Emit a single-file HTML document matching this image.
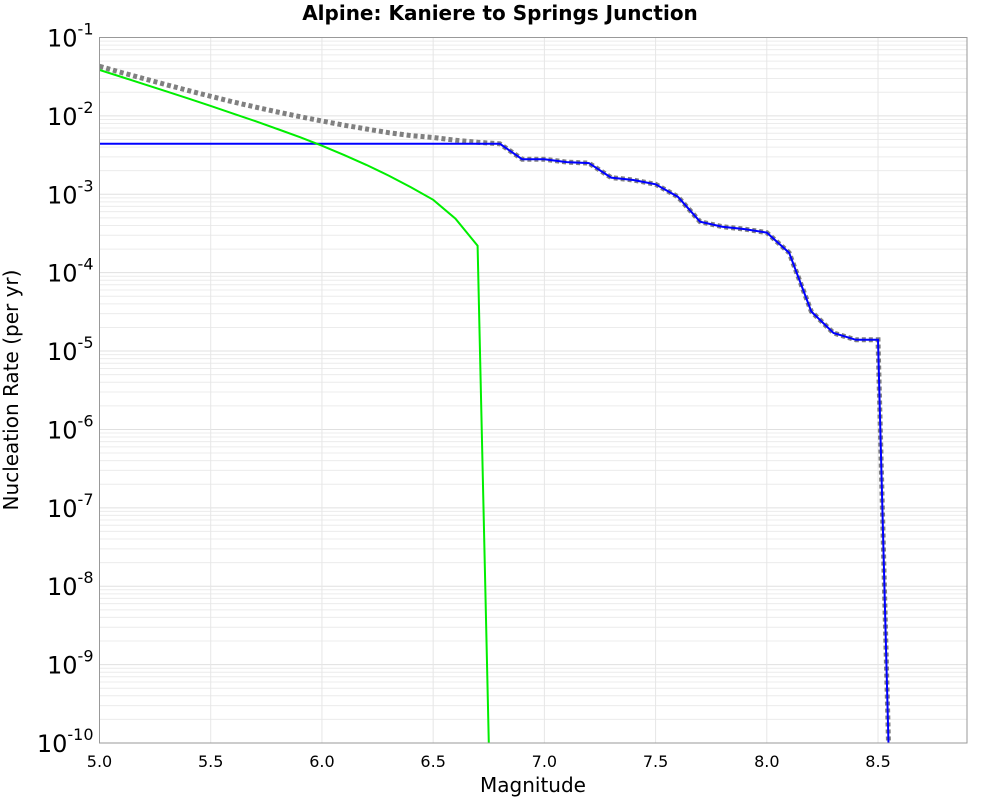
<!DOCTYPE html>
<html><head><meta charset="utf-8"><style>
body{margin:0;background:#fff;font-family:"Liberation Sans","DejaVu Sans",sans-serif}
</style></head><body>
<svg id="chart" width="1000" height="800" xmlns="http://www.w3.org/2000/svg" font-family="DejaVu Sans, Liberation Sans, sans-serif">
<rect width="1000" height="800" fill="#fff"/>
<text x="500" y="20" text-anchor="middle" font-size="20" font-weight="bold">Alpine: Kaniere to Springs Junction</text>
<g id="grid"></g><g id="ticks"></g>
<defs><clipPath id="pc"><rect x="99.5" y="37.5" width="867.5" height="705.5"/></clipPath></defs>
<g id="series" clip-path="url(#pc)"></g>
<rect x="99.5" y="37.5" width="867.5" height="705.5" fill="none" stroke="#999" stroke-width="1"/>
<text x="533" y="792" text-anchor="middle" font-size="20">Magnitude</text>
<text x="18" y="390" text-anchor="middle" font-size="20" transform="rotate(-90 18 390)">Nucleation Rate (per yr)</text>
</svg>
<script>
const xTicks=[5.0,5.5,6.0,6.5,7.0,7.5,8.0,8.5];
const yExps=[-1,-2,-3,-4,-5,-6,-7,-8,-9,-10];
const greenX=[5.0,5.1,5.2,5.3,5.4,5.5,5.6,5.7,5.8,5.9,6.0,6.1,6.2,6.3,6.4,6.5,6.6,6.7,6.75];
const greenY=[0.0385,0.0313,0.0254,0.0206,0.0166,0.0134,0.0107,0.00857,0.00681,0.00537,0.00417,0.00316,0.00237,0.00173,0.00123,0.00085,0.00049,0.00022,1e-10];
const blueX=[5.0,6.8,6.9,7.0,7.1,7.2,7.3,7.4,7.5,7.6,7.7,7.8,7.9,8.0,8.1,8.2,8.3,8.4,8.5,8.55];
const blueY=[0.0044,0.0044,0.0028,0.0028,0.00257,0.0025,0.00163,0.00152,0.00134,0.00093,0.000447,0.000386,0.00036,0.000324,0.00018,0.000032,0.000017,0.0000139,0.0000139,5e-11];
const totalX=[5.0,5.1,5.2,5.3,5.4,5.5,5.6,5.7,5.8,5.9,6.0,6.1,6.2,6.3,6.4,6.5,6.6,6.7,6.8,6.9,7.0,7.1,7.2,7.3,7.4,7.5,7.6,7.7,7.8,7.9,8.0,8.1,8.2,8.3,8.4,8.5,8.55];
const totalY=[0.0429,0.0357,0.0298,0.025,0.021,0.0178,0.0151,0.013,0.0112,0.0098,0.0086,0.0076,0.0068,0.0061,0.0056,0.0053,0.0049,0.0046,0.0044,0.0028,0.0028,0.00257,0.0025,0.00163,0.00152,0.00134,0.00093,0.000447,0.000386,0.00036,0.000324,0.00018,0.000032,0.000017,0.0000139,0.0000139,5e-11];
const X0=99.5,X1=967,Y0=37.5,Y1=743,XMIN=5.0,XMAX=8.9,LMAX=-1,LMIN=-10;
const sx=v=>X0+(v-XMIN)/(XMAX-XMIN)*(X1-X0);
const sy=v=>Y0+(LMAX-Math.log10(v))/(LMAX-LMIN)*(Y1-Y0);
const NS="http://www.w3.org/2000/svg";
function mk(tag,attrs,parent){const e=document.createElementNS(NS,tag);for(const k in attrs)e.setAttribute(k,attrs[k]);parent.appendChild(e);return e;}
const grid=document.getElementById('grid'),ticks=document.getElementById('ticks'),series=document.getElementById('series');
for(let e=-10;e<-1;e++){for(let m=2;m<=9;m++){const y=sy(m*Math.pow(10,e));
const l=mk('line',{x1:X0,x2:X1,y1:y,y2:y,stroke:'#ececec','stroke-width':1},grid);

}}
yExps.forEach(e=>{const y=sy(Math.pow(10,e));
const l=mk('line',{x1:X0,x2:X1,y1:y,y2:y,stroke:'#e0e0e0','stroke-width':1},grid);


const t=mk('text',{x:X0-6,y:y+9,'text-anchor':'end','font-size':24},ticks);


t.innerHTML='10<tspan dy="-12" font-size="16">'+e+'</tspan>';});
xTicks.forEach(v=>{const x=sx(v);
const l=mk('line',{x1:x,x2:x,y1:Y0,y2:Y1,stroke:'#e6e6e6','stroke-width':1},grid);


const t=mk('text',{x:x,y:767,'text-anchor':'middle','font-size':16},ticks);


t.textContent=v.toFixed(1);});
const pts=(xs,ys)=>xs.map((x,i)=>sx(x).toFixed(1)+','+sy(ys[i]).toFixed(1)).join(' ');
const g1=mk('polyline',{points:pts(totalX,totalY),fill:'none',stroke:'#808080','stroke-width':5,'stroke-dasharray':'4,3'},series);


const b=mk('polyline',{points:pts(blueX,blueY),fill:'none',stroke:'#0000ff','stroke-width':2},series);


const gr=mk('polyline',{points:pts(greenX,greenY),fill:'none',stroke:'#00ee00','stroke-width':2},series);


</script>
</body></html>
